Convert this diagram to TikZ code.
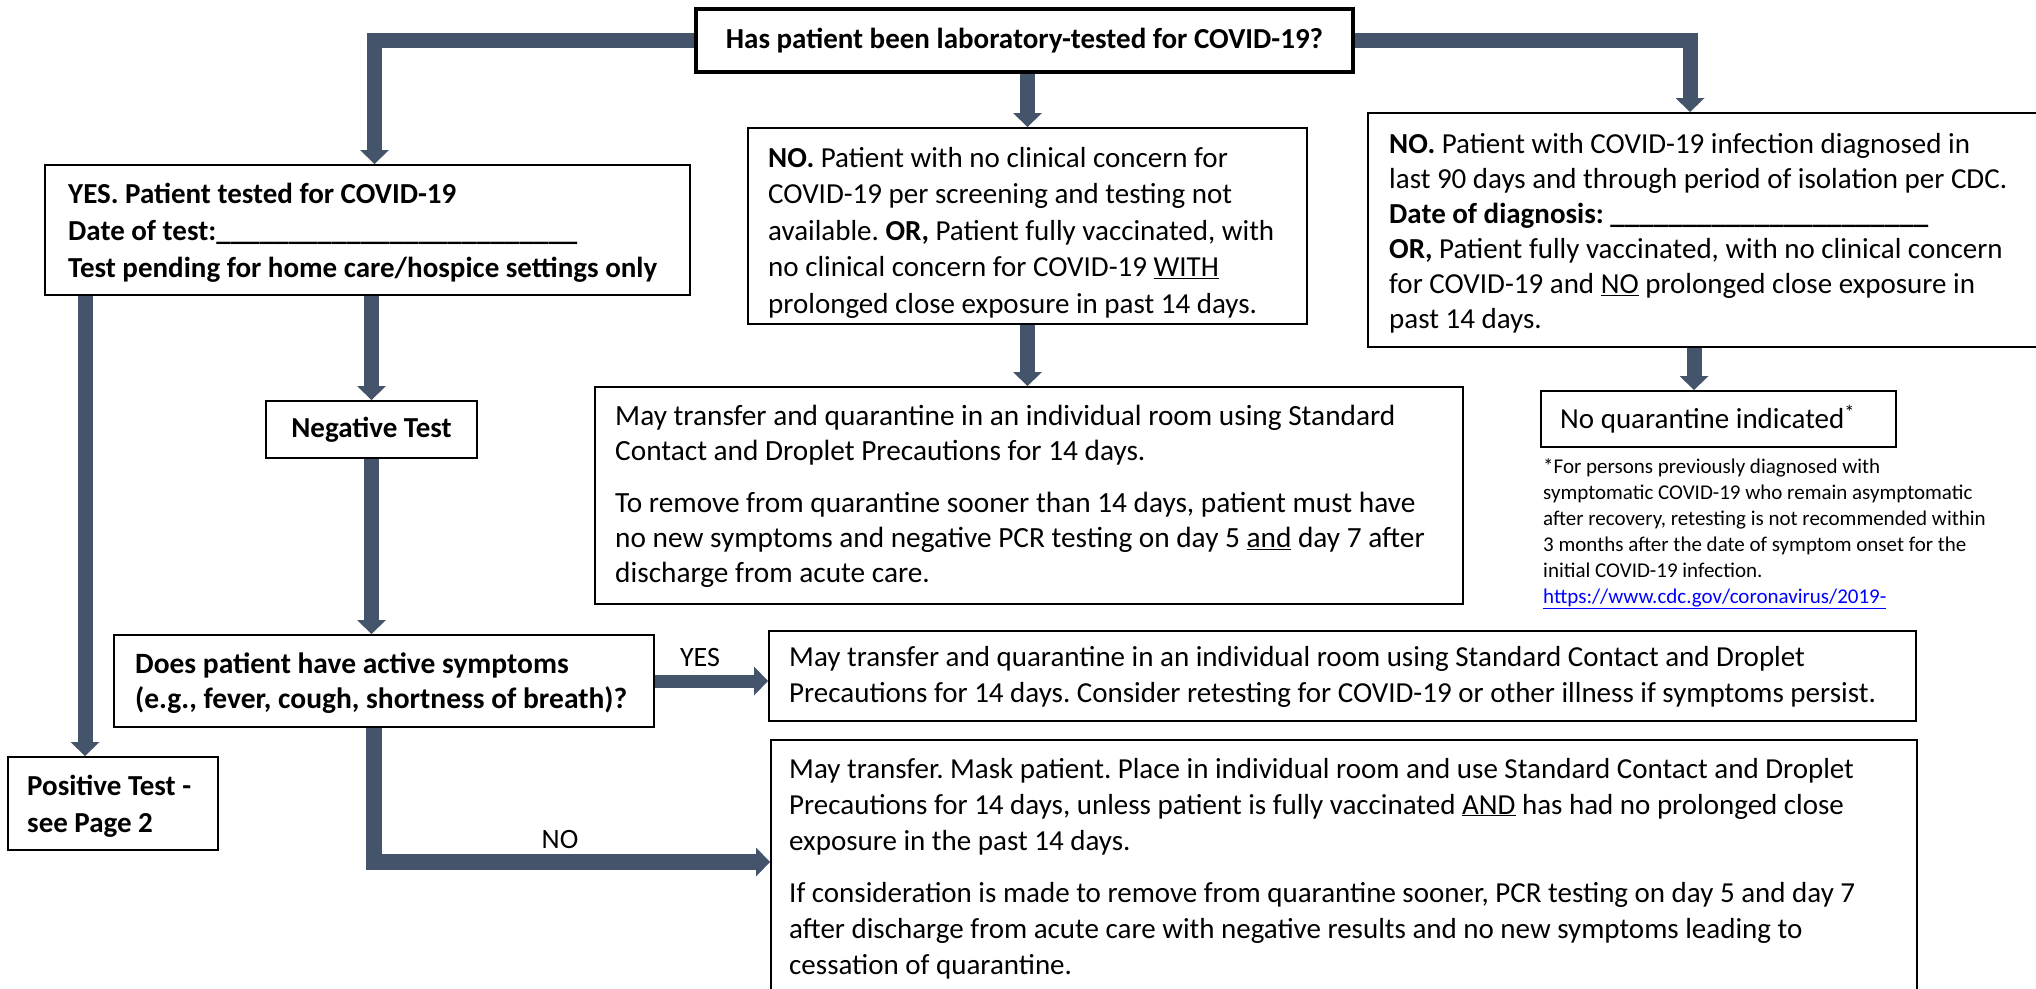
\documentclass[tikz,border=0pt]{standalone}
\usepackage{fontspec}
\setmainfont{Carlito}
\usetikzlibrary{arrows.meta}
\definecolor{arrowc}{HTML}{44546A}
\definecolor{linkblue}{RGB}{0,0,255}
\newcommand{\fsz}[2]{\fontsize{#1}{#2}\selectfont}
\frenchspacing
\begin{document}
\begin{tikzpicture}[x=1pt,y=-1pt,
  box/.style={draw=black,line width=2pt,rectangle,inner sep=0pt},
  txt/.style={anchor=north west,inner sep=0pt,align=left},
  conn/.style={draw=arrowc,line width=15pt,-{Triangle[length=14pt,width=29pt,line width=0pt]}},
  lbl/.style={inner sep=0pt,font=\fsz{28}{34}}]
\useasboundingbox (0,0) rectangle (2036,988);
\fill[white] (0,0) rectangle (2036,988);
\clip (0,0) rectangle (2036,988);

% boxes
\node[box,line width=4pt,minimum width=657pt,minimum height=63pt,font=\fsz{29}{36}\bfseries] (top) at (1024.5,40.5) {Has patient been laboratory-tested for COVID-19?};

\node[box,minimum width=645pt,minimum height=130pt] (yes) at (367.5,230) {};
\node[txt,font=\fsz{29}{37}\bfseries] (yest) at (68,177.1) {\strut YES. Patient tested for COVID-19\\Date of test:\_\_\_\_\_\_\_\_\_\_\_\_\_\_\_\_\_\_\_\_\_\_\_\_\_\\Test pending for home care/hospice settings only};

\node[box,minimum width=559pt,minimum height=196pt] (no1) at (1027.5,226) {};
\node[txt,font=\fsz{29}{36.5}] (no1t) at (768,141.45) {\strut\textbf{NO.} Patient with no clinical concern for\\COVID-19 per screening and testing not\\available. \textbf{OR,} Patient fully vaccinated, with\\no clinical concern for COVID-19 \underline{WITH}\\prolonged close exposure in past 14 days.};

\node[box,minimum width=674pt,minimum height=234pt] (nor) at (1705,230) {};
\node[txt,font=\fsz{29}{35}] (nort) at (1389,128.5) {\strut\textbf{NO.} Patient with COVID-19 infection diagnosed in\\last 90 days and through period of isolation per CDC.\\\textbf{Date of diagnosis: \_\_\_\_\_\_\_\_\_\_\_\_\_\_\_\_\_\_\_\_\_\_}\\\textbf{OR,} Patient fully vaccinated, with no clinical concern\\for COVID-19 and \underline{NO} prolonged close exposure in\\past 14 days.};

\node[box,minimum width=868pt,minimum height=217pt] (quar) at (1029,495.5) {};
\node[txt,font=\fsz{29.3}{35}] (quart) at (615,400.5) {\strut May transfer and quarantine in an individual room using Standard\\Contact and Droplet Precautions for 14 days.\\[17pt]To remove from quarantine sooner than 14 days, patient must have\\no new symptoms and negative PCR testing on day 5 \underline{and} day 7 after\\discharge from acute care.};

\node[box,minimum width=211pt,minimum height=57pt,font=\fsz{29}{36}\bfseries] (neg) at (371.5,429.5) {Negative Test};

\node[box,minimum width=355pt,minimum height=56pt] (noq) at (1718.5,419) {};
\node[txt,font=\fsz{29}{36}] (noqt) at (1560,402.8) {\strut No quarantine indicated\textsuperscript{*}};

\node[txt,font=\fsz{21}{26}] (fn) at (1543,454.8) {\strut *For persons previously diagnosed with\\symptomatic COVID-19 who remain asymptomatic\\after recovery, retesting is not recommended within\\3 months after the date of symptom onset for the\\initial COVID-19 infection.\\\textcolor{linkblue}{\underline{https://www.cdc.gov/coronavirus/2019-}}};

\node[box,minimum width=540pt,minimum height=92pt] (act) at (384,681) {};
\node[txt,font=\fsz{29.5}{35}\bfseries] (actt) at (135,648.5) {\strut Does patient have active symptoms\\(e.g., fever, cough, shortness of breath)?};

\node[box,minimum width=210pt,minimum height=93pt] (pos) at (113,803.5) {};
\node[txt,font=\fsz{29}{37}\bfseries] (post) at (27,769.1) {\strut Positive Test -\\see Page 2};

\node[box,minimum width=1147pt,minimum height=90pt] (yt) at (1342.5,676) {};
\node[txt,font=\fsz{29}{36}] (ytt) at (789,640.8) {\strut May transfer and quarantine in an individual room using Standard Contact and Droplet\\Precautions for 14 days. Consider retesting for COVID-19 or other illness if symptoms persist.};

\node[box,minimum width=1146pt,minimum height=270pt] (nt) at (1344,875) {};
\node[txt,font=\fsz{29}{36}] (ntt) at (789,752.8) {\strut May transfer. Mask patient. Place in individual room and use Standard Contact and Droplet\\Precautions for 14 days, unless patient is fully vaccinated \underline{AND} has had no prolonged close\\exposure in the past 14 days.\\[16pt]If consideration is made to remove from quarantine sooner, PCR testing on day 5 and day 7\\after discharge from acute care with negative results and no new symptoms leading to\\cessation of quarantine.};

% labels
\node[lbl] (yesl) at (700,657) {YES};
\node[lbl] (nol) at (560,839) {NO};

% connectors
\coordinate (lx) at (85,0);
\coordinate (nb) at (374,862);
\draw[conn] (top.west) -| ([xshift=7pt]yes.north);
\draw[conn] (top.east) -| ([xshift=-15pt]nor.north);
\draw[conn] (top.south -| no1.north) -- (no1.north);
\draw[conn] (no1.south) -- (no1.south |- quar.north);
\draw[conn] ([xshift=-11pt]nor.south) -- ([xshift=-11pt]nor.south |- noq.north);
\draw[conn] (yes.south -| neg.north) -- (neg.north);
\draw[conn] (neg.south) -- (neg.south |- act.north);
\draw[conn] (yes.south -| lx) -- (pos.north -| lx);
\draw[conn,line width=13pt] (act.east) -- (act.east -| yt.west);
\draw[conn,line width=16pt] (act.south -| nb) |- (nt.west |- nb);
\end{tikzpicture}
\end{document}
